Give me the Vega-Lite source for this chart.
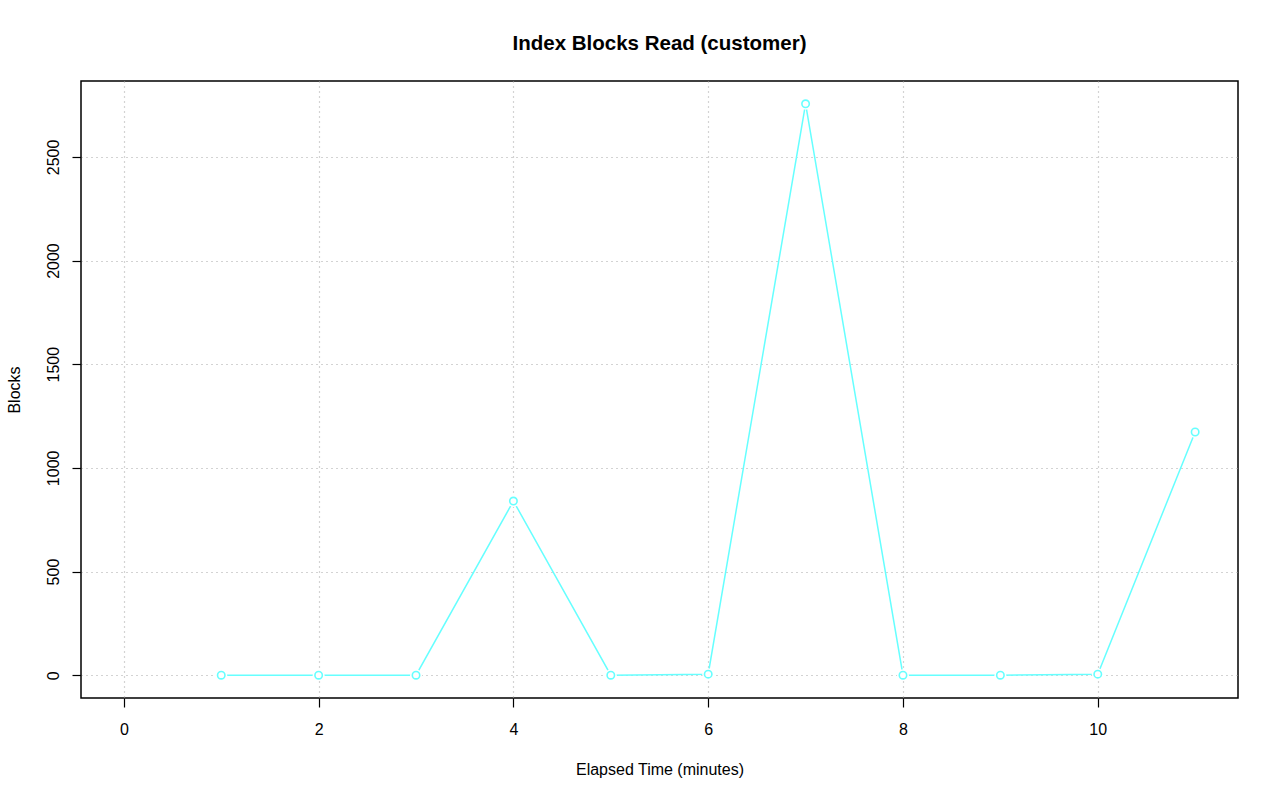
{
  "$schema": "https://vega.github.io/schema/vega-lite/v6.json",
  "width": 1157,
  "height": 617,
  "autosize": {"type": "none"},
  "padding": {"left": 81, "top": 81, "right": 42, "bottom": 103},
  "background": "white",
  "title": {
    "text": "Index Blocks Read (customer)",
    "font": "Liberation Sans",
    "fontSize": 20.5,
    "fontWeight": "bold",
    "color": "black",
    "anchor": "middle",
    "offset": 27
  },
  "config": {
    "view": {"stroke": "black", "strokeWidth": 1.5},
    "axis": {
      "labelFont": "Liberation Sans",
      "labelFontSize": 16,
      "labelColor": "black",
      "titleFont": "Liberation Sans",
      "titleFontSize": 16,
      "titleFontWeight": "normal",
      "titleColor": "black",
      "domain": false,
      "tickColor": "black",
      "tickSize": 9,
      "tickWidth": 1.2,
      "grid": true,
      "gridColor": "#a8a8a8",
      "gridDash": [1, 4],
      "gridWidth": 1.2
    }
  },
  "data": {
    "values": [
      {"t": 1, "blocks": 0},
      {"t": 2, "blocks": 0},
      {"t": 3, "blocks": 0},
      {"t": 4, "blocks": 840},
      {"t": 5, "blocks": 0},
      {"t": 6, "blocks": 5},
      {"t": 7, "blocks": 2756},
      {"t": 8, "blocks": 0},
      {"t": 9, "blocks": 0},
      {"t": 10, "blocks": 5},
      {"t": 11, "blocks": 1173}
    ]
  },
  "encoding": {
    "x": {
      "field": "t",
      "type": "quantitative",
      "scale": {"domain": [-0.44, 11.44], "nice": false, "zero": false},
      "axis": {
        "title": "Elapsed Time (minutes)",
        "values": [0, 2, 4, 6, 8, 10],
        "format": "d",
        "labelPadding": 14,
        "titlePadding": 24,
        "labelFlush": false
      }
    },
    "y": {
      "field": "blocks",
      "type": "quantitative",
      "scale": {"domain": [-110, 2866], "nice": false, "zero": false},
      "axis": {
        "title": "Blocks",
        "values": [0, 500, 1000, 1500, 2000, 2500],
        "format": "d",
        "labelAngle": -90,
        "labelAlign": "center",
        "labelBaseline": "bottom",
        "labelPadding": 11,
        "titlePadding": 23,
        "labelFlush": false
      }
    }
  },
  "layer": [
    {
      "mark": {"type": "line", "color": "#66ffff", "strokeWidth": 1.5}
    },
    {
      "mark": {"type": "point", "shape": "circle", "filled": true, "fill": "white", "stroke": null, "size": 140, "opacity": 1}
    },
    {
      "mark": {"type": "point", "shape": "circle", "filled": false, "color": "#66ffff", "strokeWidth": 1.6, "size": 55, "opacity": 1}
    }
  ]
}
